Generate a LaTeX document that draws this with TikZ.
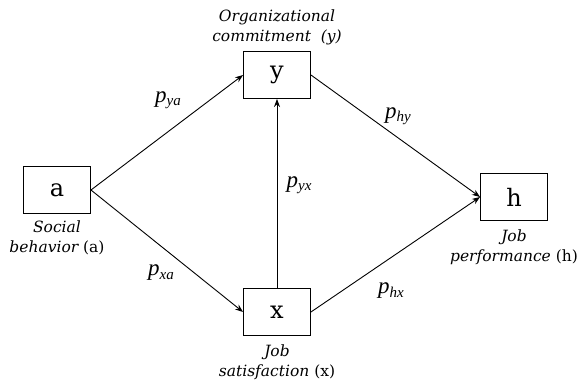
\documentclass[tikz,border=0pt]{standalone}
\usepackage{fontspec}
\setmainfont{Liberation Serif}
\newfontfamily\lblfont{DejaVu Serif}
\usetikzlibrary{arrows.meta}
% path coefficient: italic p with a lowered italic subscript
\newcommand{\pcoef}[1]{\textit{p}\raisebox{-0.3ex}{\fontsize{15}{15}\selectfont\itshape #1}}
\begin{document}
\begin{tikzpicture}[x=1pt,y=-1pt,
  var/.style={draw, line width=0.9pt, minimum width=67pt, minimum height=47pt,
    inner sep=0pt, font=\lblfont\fontsize{24}{24}\selectfont},
  desc/.style={align=center, font=\lblfont\itshape\fontsize{15.5}{20}\selectfont},
  coef/.style={inner sep=0pt, font=\fontsize{23}{23}\selectfont},
  path/.style={line width=0.9pt, -{Stealth[length=8pt,width=6pt]}}]
\useasboundingbox (0,0) rectangle (587,381);
% variable boxes
\node[var] (a) at (57,190) {a};
\node[var] (y) at (277,75) {y};
\node[var] (x) at (277,312) {x};
\node[var] (h) at (514,197) {h};
% descriptive labels
\node[desc] (la) at (57,238) {Social\\behavior {\upshape(a)}};
\node[desc] (ly) at (277,27) {Organizational\\commitment~ (y)};
\node[desc] (lx) at (277,362) {Job\\satisfaction {\upshape(x)}};
\node[desc] (lh) at (514,247) {Job\\performance {\upshape(h)}};
% paths
\draw[path] (a.east) -- (y.west);
\draw[path] (a.east) -- (x.west);
\draw[path] (x.north) -- (y.south);
\draw[path] (y.east) -- (h.west);
\draw[path] (x.east) -- (h.west);
% path coefficients
\node[coef] (pya) at (168,100) {\pcoef{ya}};
\node[coef] (pxa) at (161,273) {\pcoef{xa}};
\node[coef] (pyx) at (299,185) {\pcoef{yx}};
\node[coef] (phy) at (398,116) {\pcoef{hy}};
\node[coef] (phx) at (391,291) {\pcoef{hx}};
\end{tikzpicture}
\end{document}
